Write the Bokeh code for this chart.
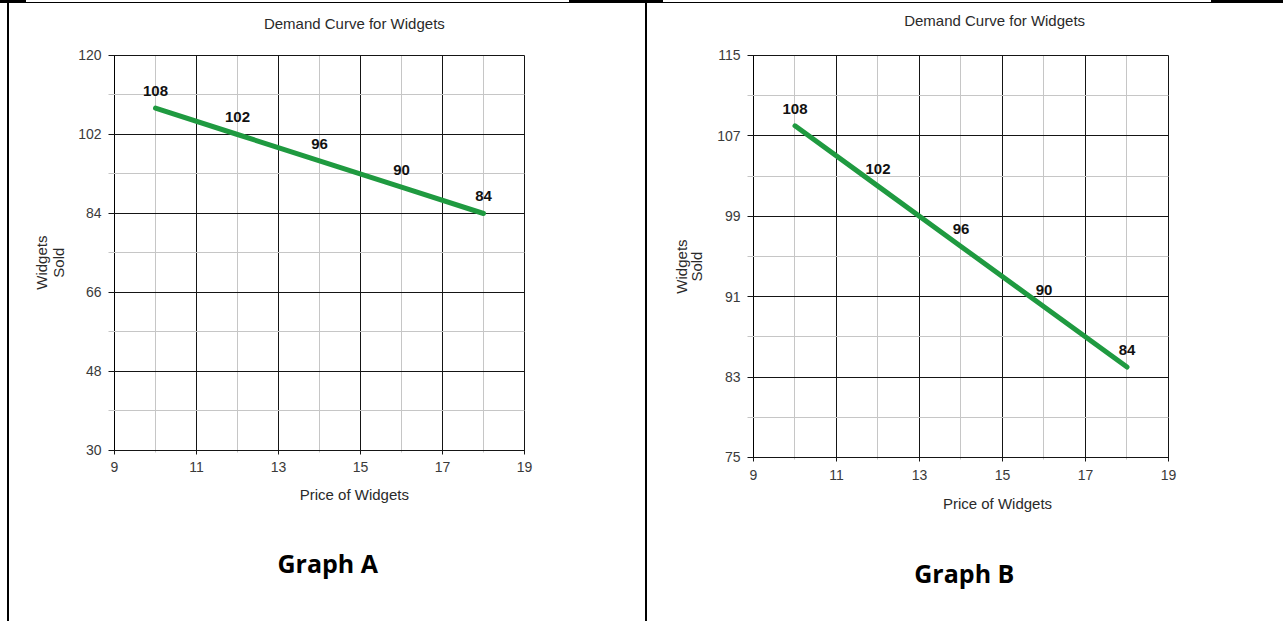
import math
from bokeh.plotting import figure
from bokeh.models import Range1d, FixedTicker, Label, Div, ColumnDataSource
from bokeh.layouts import row, column
from bokeh.core.properties import value
from bokeh.embed import file_html
from bokeh.resources import INLINE

# ---- data ----
prices = [10, 12, 14, 16, 18]
widgets_sold = [108, 102, 96, 90, 84]
point_labels = [str(v) for v in widgets_sold]

x_ticks = [9, 11, 13, 15, 17, 19]
x_minor = [10, 12, 14, 16, 18]
a_y_ticks = [30, 48, 66, 84, 102, 120]
a_y_minor = [39, 57, 75, 93, 111]
b_y_ticks = [75, 83, 91, 99, 107, 115]
b_y_minor = [79, 87, 95, 103, 111]

chart_title = "Demand Curve for Widgets"
x_title = "Price of Widgets"
y_title = ["Widgets", "Sold"]

FONT = "Liberation Sans"
GREEN = "#1f9a40"
PANEL_W, PANEL_H = 636, 618


def make_panel(xr, yr, y_ticks, y_minor, frame_px, xstandoff, texts, graph_name):
    # frame covers the whole panel; axes are pinned at the plot corner
    p = figure(width=PANEL_W, height=PANEL_H, x_range=Range1d(*xr), y_range=Range1d(*yr),
               output_backend="svg", toolbar_location=None, title=None,
               min_border=0, min_border_left=0, min_border_right=0,
               min_border_top=0, min_border_bottom=0)
    p.outline_line_color = None
    p.background_fill_color = "white"
    p.border_fill_color = "white"
    p.xgrid.visible = False
    p.ygrid.visible = False

    fw, fh = frame_px
    p.xaxis.ticker = FixedTicker(ticks=x_ticks, minor_ticks=x_minor)
    p.yaxis.ticker = FixedTicker(ticks=y_ticks, minor_ticks=y_minor)
    p.xaxis.bounds = (x_ticks[0], x_ticks[-1])
    p.yaxis.bounds = (y_ticks[0], y_ticks[-1])
    p.xaxis.fixed_location = y_ticks[0]
    p.yaxis.fixed_location = x_ticks[0]
    for ax in (p.xaxis, p.yaxis):
        ax.axis_line_color = "black"
        ax.major_tick_line_color = "#151515"
        ax.minor_tick_line_color = "#c6c6c6"
        ax.major_label_text_font = FONT
        ax.major_label_text_font_size = "14px"
        ax.major_label_text_color = "#3a3a3a"
    # ticks drawn through the plot area act as the chart grid
    p.xaxis.major_tick_in = fh
    p.xaxis.minor_tick_in = fh
    p.xaxis.major_tick_out = 4
    p.xaxis.minor_tick_out = 2
    p.xaxis.major_label_standoff = xstandoff
    p.yaxis.major_tick_in = fw
    p.yaxis.minor_tick_in = fw
    p.yaxis.major_tick_out = 6
    p.yaxis.minor_tick_out = 6
    p.yaxis.major_label_standoff = 7

    src = ColumnDataSource(dict(x=prices, y=widgets_sold, t=point_labels))
    p.line("x", "y", source=src, line_color=GREEN, line_width=5, line_cap="round",
           level="overlay")
    p.text("x", "y", text="t", source=src, y_offset=-17, level="overlay",
           text_font=value(FONT), text_font_style="bold", text_font_size="15px",
           text_color="#111111", text_align="center", text_baseline="middle")

    (tx, ty), (xx, xy), (wx, sx, yy), (gx, gy) = texts
    common = dict(text_font=FONT, text_font_size="15px", text_color="#2a2a2a",
                  text_align="center", text_baseline="middle")
    p.add_layout(Label(x=tx, y=ty, text=chart_title, **common))
    p.add_layout(Label(x=xx, y=xy, text=x_title, **common))
    p.add_layout(Label(x=wx, y=yy, text=y_title[0], angle=math.pi / 2, **common))
    p.add_layout(Label(x=sx, y=yy, text=y_title[1], angle=math.pi / 2, **common))
    p.add_layout(Label(x=gx, y=gy, text=graph_name, text_font="Open Sans",
                       text_font_style="bold", text_font_size="25px", text_color="black",
                       text_align="center", text_baseline="middle"))
    return p


pa = make_panel((6.4390, 21.9512), (-8.962, 131.848), a_y_ticks, a_y_minor, (410, 395), 8,
                ((14.85, 127.3), (14.85, 19.97), (7.22, 7.63, 72.8), (14.2, 4.4)), "Graph A")
pb = make_panel((6.4458, 21.7711), (58.681, 120.174), b_y_ticks, b_y_minor, (415, 402), 9,
                ((14.81, 118.48), (14.88, 70.42), (7.265, 7.63, 94.0), (14.08, 63.5)), "Graph B")


def bar(w, h, kind):
    if kind == "thick":
        st = {"background-color": "black"}
    elif kind == "thin":
        st = {"border-bottom": "1px solid black", "box-sizing": "border-box"}
    else:
        st = {"background-color": "white"}
    return Div(text="", width=w, height=h, margin=(0, 0, 0, 0), styles=st)


top = row(bar(26, 3, "thick"), bar(543, 3, "thin"), bar(94, 3, "thick"), bar(548, 3, "thin"),
          bar(72, 3, "thick"), spacing=0)
main = row(bar(7, PANEL_H, "blank"), bar(2, PANEL_H, "thick"), pa, bar(2, PANEL_H, "thick"), pb,
           spacing=0)
layout = column(top, main, spacing=0)

open("out.html", "w").write(file_html(layout, INLINE))
